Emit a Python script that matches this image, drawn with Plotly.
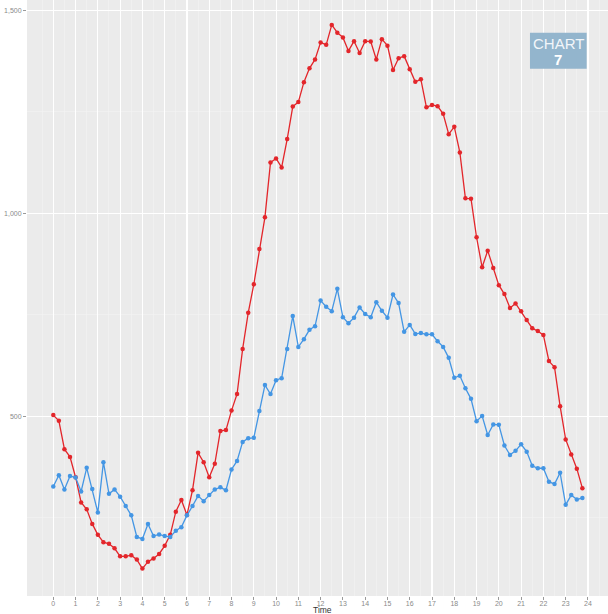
import plotly.graph_objects as go

# 15-minute time grid (hours)
times = [i * 0.25 for i in range(96)]

red_values = [
    503, 489, 419, 400, 350, 288, 271, 235, 208, 190, 186, 175,
    155, 155, 158, 147, 125, 142, 150, 161, 181, 208, 265, 294,
    257, 318, 410, 387, 350, 383, 464, 466, 514, 555, 666, 755,
    825, 912, 990, 1125, 1135, 1113, 1183, 1263, 1274, 1323, 1357, 1379,
    1421, 1415, 1464, 1445, 1433, 1400, 1424, 1395, 1424, 1423, 1379, 1429,
    1413, 1353, 1382, 1387, 1355, 1324, 1330, 1261, 1267, 1264, 1245, 1195,
    1213, 1150, 1037, 1036, 941, 867, 908, 865, 823, 801, 767, 778,
    759, 737, 717, 710, 700, 636, 621, 525, 443, 406, 371, 323,
]

blue_values = [
    327, 355, 320, 353, 349, 315, 373, 321, 263, 387, 309, 320,
    302, 279, 256, 203, 198, 235, 205, 209, 205, 203, 218, 227,
    256, 279, 304, 291, 306, 320, 325, 318, 369, 390, 437, 446,
    447, 513, 577, 555, 589, 594, 666, 747, 671, 690, 713, 722,
    785, 770, 759, 814, 744, 729, 743, 768, 752, 744, 781, 760,
    743, 800, 779, 708, 725, 703, 705, 702, 702, 685, 671, 644,
    595, 600, 569, 543, 488, 501, 454, 480, 479, 428, 405, 415,
    431, 413, 378, 372, 372, 339, 333, 361, 282, 306, 295, 299,
]

x_tick_vals = list(range(0, 25))
x_tick_text = [str(v) for v in x_tick_vals]
y_tick_vals = [500, 1000, 1500]
y_tick_text = ["500", "1,000", "1,500"]

RED = "#E3262B"
BLUE = "#4496E4"

fig = go.Figure()
fig.add_trace(go.Scatter(
    x=times, y=red_values, mode="lines+markers",
    line=dict(color=RED, width=1.3),
    marker=dict(color=RED, size=4.5),
    showlegend=False, hoverinfo="skip",
))
fig.add_trace(go.Scatter(
    x=times, y=blue_values, mode="lines+markers",
    line=dict(color=BLUE, width=1.3),
    marker=dict(color=BLUE, size=4.5),
    showlegend=False, hoverinfo="skip",
))

tick_font = dict(family="Liberation Sans, Arial, sans-serif", size=7, color="#8a8a8a")

fig.update_layout(
    width=608, height=614,
    margin=dict(l=27, r=0, t=0, b=18, autoexpand=False),
    paper_bgcolor="white",
    plot_bgcolor="#EBEBEB",
    xaxis=dict(
        range=[-1.18, 24.9], automargin=False,
        tickmode="array", tickvals=x_tick_vals, ticktext=x_tick_text,
        showgrid=True, gridcolor="white", gridwidth=1.1,
        minor=dict(tickmode="array",
                   tickvals=[v + 0.5 for v in range(-1, 25)],
                   showgrid=True, gridcolor="#F4F4F4", gridwidth=0.6, ticks=""),
        ticks="outside", ticklen=3, tickwidth=1, tickcolor="#9a9a9a",
        ticklabelstandoff=-2,
        tickfont=tick_font, zeroline=False, showline=False,
        fixedrange=True,
    ),
    yaxis=dict(
        range=[57.4, 1525.4], automargin=False,
        tickmode="array", tickvals=y_tick_vals, ticktext=y_tick_text,
        showgrid=True, gridcolor="white", gridwidth=1.1,
        minor=dict(tickmode="array", tickvals=[250, 750, 1250],
                   showgrid=True, gridcolor="#F4F4F4", gridwidth=0.6, ticks=""),
        ticks="outside", ticklen=3, tickwidth=1, tickcolor="#9a9a9a",
        tickfont=tick_font, zeroline=False, showline=False,
        fixedrange=True,
    ),
    shapes=[dict(
        type="rect", xref="paper", yref="paper",
        x0=0.8657, x1=0.9633, y0=0.8847, y1=0.9451,
        fillcolor="#93B5CD", line=dict(width=0), layer="above",
    )],
    annotations=[
        dict(text="Time", xref="paper", yref="paper", x=0.508, y=-0.0235,
             xanchor="center", yanchor="middle", showarrow=False,
             font=dict(family="Liberation Sans, Arial, sans-serif", size=8.5, color="#333333")),
        dict(text="CHART", xref="paper", yref="paper", x=0.9145, y=0.927,
             xanchor="center", yanchor="middle", showarrow=False,
             font=dict(family="Liberation Sans Narrow, Liberation Sans, sans-serif", size=15, color="#F2F6FA")),
        dict(text="<b>7</b>", xref="paper", yref="paper", x=0.9145, y=0.901,
             xanchor="center", yanchor="middle", showarrow=False,
             font=dict(family="Liberation Sans, Arial, sans-serif", size=15, color="#FFFFFF")),
    ],
)

fig.write_html(
    "out.html",
    config={"displayModeBar": False, "staticPlot": True},
    post_script="document.body.style.margin='0';document.body.style.overflow='hidden';",
)
